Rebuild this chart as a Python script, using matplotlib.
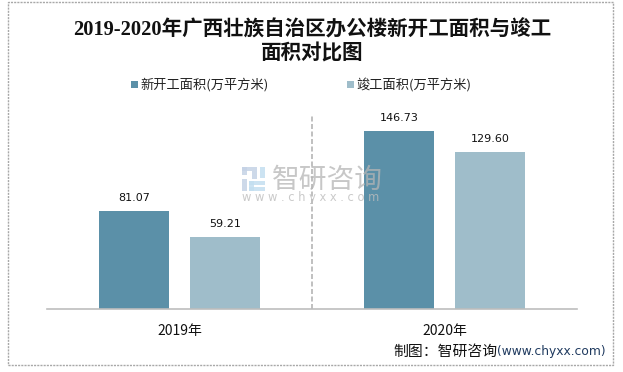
import matplotlib
matplotlib.use('Agg')
import matplotlib.pyplot as plt
from matplotlib.patches import Rectangle

plt.rcParams['font.family'] = ['Noto Sans CJK SC', 'DejaVu Sans']

W, H = 623, 372

years = ['2019年', '2020年']
new_start = [81.07, 146.73]
finished = [59.21, 129.60]
name_new = '新开工面积(万平方米)'
name_fin = '竣工面积(万平方米)'
title_1 = '2019-2020年广西壮族自治区办公楼新开工面积与竣工'
title_2 = '面积对比图'

c_new = '#5b90a8'
c_fin = '#9fbdca'

fig = plt.figure(figsize=(W / 100, H / 100), dpi=100)

# axes placed in pixels, x 47-577 and y 309 at the baseline
ax = fig.add_axes([47 / W, 1 - 309 / H, 530 / W, 194 / H])
ax.set_xlim(-0.5, 1.5)
ax.set_ylim(0, 194 / 1.213)

x = [0, 1]
bw = 0.264
off = 0.172
b1 = ax.bar([i - off for i in x], new_start, bw, color=c_new)
b2 = ax.bar([i + off for i in x], finished, bw, color=c_fin)
for bars, vals in [(b1, new_start), (b2, finished)]:
    for r, v in zip(bars, vals):
        ax.annotate('%.2f' % v, (r.get_x() + r.get_width() / 2, v), xytext=(0, 8),
                    textcoords='offset pixels', ha='center', va='bottom',
                    fontsize=8, family='DejaVu Sans', color='#111111')

# dashed divider between years
ax.axvline(0.5, color='#b5b5b5', lw=1.2, ls=(0, (3, 1.5)))

for s in ['top', 'left', 'right']:
    ax.spines[s].set_visible(False)
ax.spines['bottom'].set_color('#bdbdbd')
ax.spines['bottom'].set_linewidth(1.2)
ax.set_yticks([])
ax.set_xticks(x)
ax.set_xticklabels(years, fontsize=10, color='#111111')
ax.tick_params(axis='x', length=0, pad=11)

# outer dotted frame
fig.add_artist(Rectangle((8 / W, 1 - 365 / H), 605 / W, 363 / H, transform=fig.transFigure,
                         fill=False, edgecolor='#a8a8a8', lw=1, ls=(0, (1.5, 0.8))))

serif = ['Liberation Serif', 'Noto Sans CJK SC']
fig.text(312 / W, 1 - 30 / H, title_1, ha='center', va='center', fontsize=14.8, fontweight='bold',
         family=serif, color='#111111')
fig.text(312 / W, 1 - 55 / H, title_2, ha='center', va='center', fontsize=14.8, fontweight='bold',
         family=serif, color='#111111')

# legend by hand
for px, c, name in [(131, c_new, name_new), (347, c_fin, name_fin)]:
    fig.add_artist(Rectangle((px / W, 1 - 88 / H), 7 / W, 7 / H, transform=fig.transFigure,
                             facecolor=c, edgecolor='none'))
    fig.text((px + 9) / W, 1 - 84.5 / H, name, ha='left', va='center', fontsize=9.5, color='#222222')

# watermark
fig.text(327 / W, 1 - 180 / H, '智研咨询', ha='center', va='center', fontsize=20,
         color='#b5b5b5', alpha=0.75)
fig.text(311 / W, 1 - 198 / H, 'w w w . c h y x x . c o m', ha='center', va='center', fontsize=8.3,
         family='DejaVu Sans', color='#bdbdbd', alpha=0.8)
for bx, by, bw2, bh, c in [(242, 167, 15, 4, '#c5d3e6'), (242, 167, 5, 8, '#c5d3e6'),
                           (242, 179, 5, 12, '#c5d3e6'), (252, 171, 5, 8, '#c5d3e6'),
                           (260, 167, 5, 11, '#c3dff0'), (249, 181, 16, 4, '#c3dff0'),
                           (249, 187, 16, 4, '#c3dff0'), (249, 181, 5, 10, '#c3dff0')]:
    fig.add_artist(Rectangle((bx / W, 1 - (by + bh) / H), bw2 / W, bh / H, transform=fig.transFigure,
                             facecolor=c, edgecolor='none', alpha=0.85))

fig.text(393 / W, 1 - 352 / H, '制图：智研咨询', ha='left', va='center', fontsize=10.7, color='#111111')
fig.text(497 / W, 1 - 352 / H, '(www.chyxx.com)', ha='left', va='center', fontsize=8.8,
         family='DejaVu Sans', color='#1f3a5f')

fig.savefig('out.png', dpi=100)
